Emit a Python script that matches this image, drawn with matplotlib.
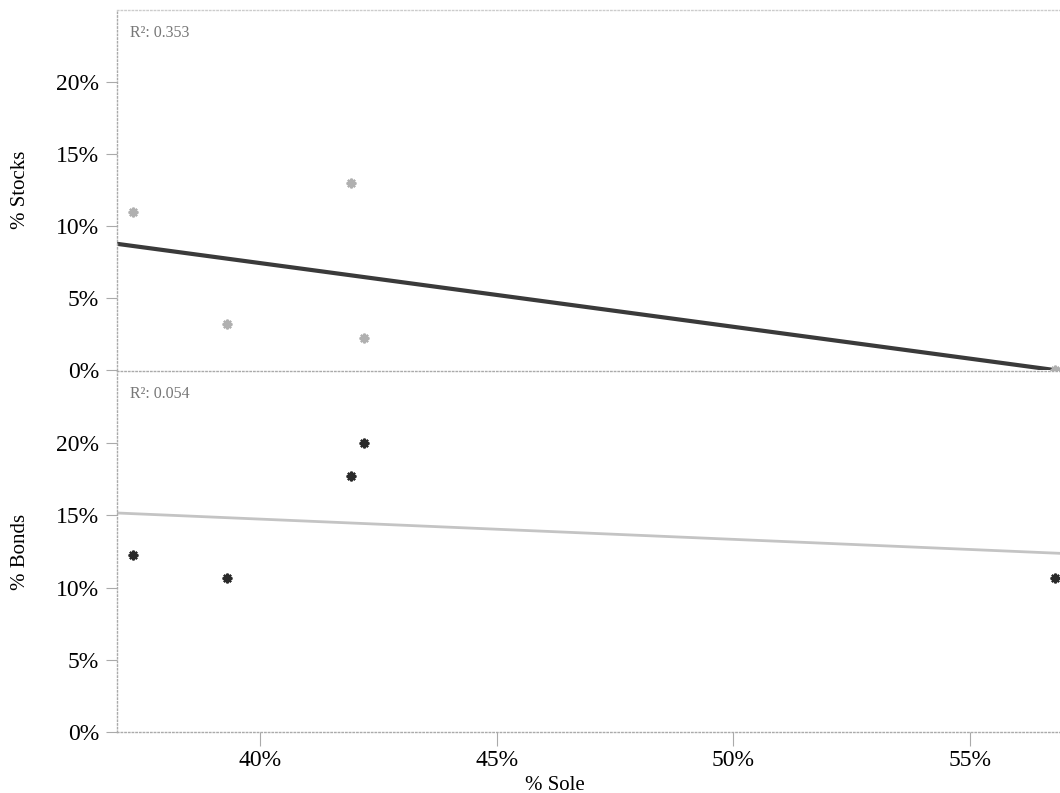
import numpy as np
import matplotlib
matplotlib.use('Agg')
from matplotlib import pyplot as plt
from matplotlib.ticker import FuncFormatter

plt.rcParams['font.family'] = ['Liberation Serif', 'DejaVu Serif']

# % Sole (x) for each plan
sole = [37.32, 39.30, 41.92, 42.20, 56.80]
# % Stocks and % Bonds for the same plans
stocks = [10.97, 3.19, 12.99, 2.22, 0.0]
bonds = [12.25, 10.66, 17.70, 20.00, 10.66]
r2_labels = ['R\u00b2: 0.353', 'R\u00b2: 0.054']

x_ticks = [40, 45, 50, 55]
y_ticks = [0, 5, 10, 15, 20]


def pct(v, pos):
    return '%d%%' % round(v)


fig = plt.figure(figsize=(10.6, 7.93), dpi=100)
ax1 = fig.add_axes([0.1104, 0.5334, 0.8896, 0.4540])
ax2 = fig.add_axes([0.1104, 0.0769, 0.8896, 0.4552], sharex=ax1)

x = np.array(sole)
xfit = np.array([36.98, 56.90])

panels = [
    (ax1, stocks, '% Stocks', '#b0b0b0', '#3a3a3a', 3.0, r2_labels[0]),
    (ax2, bonds, '% Bonds', '#2a2a2a', '#c4c4c4', 2.0, r2_labels[1]),
]
for ax, vals, label, mcol, lcol, lw, r2 in panels:
    y = np.array(vals)
    k, b = np.polyfit(x, y, 1)
    ax.plot(xfit, k * xfit + b, color=lcol, linewidth=lw, zorder=2)
    ax.plot(x, y, linestyle='none', marker=(8, 2, 0), markersize=7,
            markeredgewidth=1.6, color=mcol, zorder=3, clip_on=False)
    ax.set_ylim(0, 25)
    ax.set_yticks(y_ticks)
    ax.yaxis.set_major_formatter(FuncFormatter(pct))
    ax.set_ylabel(label, fontsize=15)
    ax.text(0.014, 0.937, r2, transform=ax.transAxes, fontsize=11.5,
            color='#777777', va='center', ha='left')
    for side in ['left', 'top', 'bottom']:
        ax.spines[side].set_linestyle(':')
        ax.spines[side].set_color('#aaaaaa')
        ax.spines[side].set_linewidth(1.0)
    ax.spines['right'].set_visible(False)
    ax.tick_params(axis='y', length=8, width=0.8, color='#aaaaaa',
                   labelsize=17, pad=5)
    ax.tick_params(axis='x', length=10, width=0.8, color='#aaaaaa',
                   labelsize=17, pad=3)

ax1.set_xlim(36.98, 56.90)
ax1.set_xticks(x_ticks)
ax1.tick_params(axis='x', bottom=False, labelbottom=False)
ax1.spines['bottom'].set_visible(False)
ax1.spines['top'].set_color('#cccccc')
ax2.xaxis.set_major_formatter(FuncFormatter(pct))
ax2.set_xlabel('% Sole', fontsize=15)
ax2.xaxis.set_label_coords(0.4645, -0.122)

ax1.yaxis.set_label_coords(-0.092, 0.5)
ax2.yaxis.set_label_coords(-0.092, 0.5)

plt.savefig('out.png', dpi=100)
